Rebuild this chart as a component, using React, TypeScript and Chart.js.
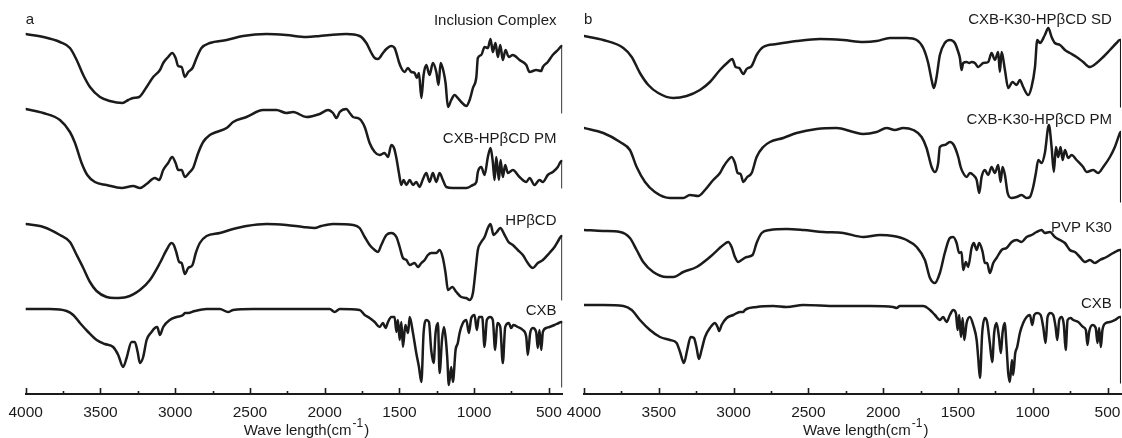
import React, { useEffect, useRef } from "react";
import { Chart, registerables } from "chart.js";

Chart.register(...registerables);

const FONT = '"Liberation Sans", Arial, Helvetica, sans-serif';
const INK = "#1b1b1b";

// x axis (wavenumber, cm-1)
const majorTicks = [4000, 3500, 3000, 2500, 2000, 1500, 1000, 500];
const minorTicks = [3750, 3250, 2750, 2250, 1750, 1250, 750];
const axisTitle = "Wave length(cm";
const axisTitleSup = "-1";
const axisTitleEnd = ")";

// Panel a series: [wavenumber, offset transmittance (a.u.)]
const inclusionComplex: [number, number][] = [[4000,359],[3882,356],[3771,351],[3704,345],[3659,333],[3615,318],[3570,306],[3503,296],[3437,292],[3352,290],[3314,293],[3281,295],[3241,296],[3191,306],[3147,316],[3102,323],[3080,330],[3047,336],[3020,340],[2997,335],[2980,327],[2957,326],[2935,316],[2913,321],[2884,325],[2857,335],[2824,345],[2768,350],[2656,353],[2546,357],[2389,359],[2256,358],[2122,356],[2033,357],[1966,358],[1855,359],[1766,357],[1721,350],[1687,340],[1665,335],[1643,334],[1610,340],[1587,344],[1554,347],[1532,345],[1520,340],[1503,331],[1487,325],[1465,321],[1443,325],[1420,321],[1398,320],[1383,315],[1369,320],[1353,295],[1338,318],[1320,328],[1298,318],[1276,330],[1253,321],[1238,308],[1224,330],[1204,321],[1191,310],[1175,286],[1153,293],[1131,298],[1109,295],[1086,291],[1052,287],[1030,293],[1008,305],[985,316],[975,335],[952,338],[930,346],[908,345],[890,354],[875,341],[857,350],[841,336],[825,348],[808,333],[790,343],[768,336],[741,338],[696,333],[651,328],[629,321],[585,323],[551,322],[540,326],[507,331],[474,338],[440,343],[422,346],[413,347],[413,280]];

const cxbHpbcdPm: [number, number][] = [[4000,284],[3882,280],[3771,273],[3704,261],[3670,250],[3626,230],[3588,218],[3537,211],[3459,208],[3358,205],[3281,207],[3236,205],[3191,209],[3136,215],[3107,213],[3080,223],[3047,230],[3020,236],[2997,230],[2980,223],[2957,223],[2935,216],[2902,221],[2880,225],[2846,240],[2813,251],[2768,258],[2723,261],[2656,265],[2612,271],[2523,276],[2412,283],[2322,283],[2256,280],[2211,281],[2122,276],[2033,279],[1977,283],[1944,280],[1921,275],[1899,281],[1855,284],[1832,280],[1810,276],[1766,274],[1732,266],[1699,250],[1665,241],[1632,238],[1599,240],[1576,236],[1554,248],[1536,245],[1520,235],[1503,220],[1487,208],[1472,213],[1453,208],[1431,213],[1409,208],[1387,211],[1365,206],[1342,214],[1320,220],[1298,211],[1276,220],[1253,211],[1231,220],[1209,213],[1186,206],[1142,205],[1052,205],[1008,208],[985,211],[975,221],[952,226],[930,218],[908,236],[890,245],[875,231],[863,213],[852,236],[834,213],[823,233],[808,216],[792,228],[774,220],[741,223],[696,216],[651,211],[629,215],[596,208],[563,213],[540,211],[507,218],[474,221],[440,226],[422,231],[413,232],[413,205]];

const hpbcd: [number, number][] = [[4000,169],[3882,166],[3771,158],[3704,151],[3659,138],[3615,125],[3570,111],[3526,102],[3459,96],[3403,95],[3325,96],[3236,103],[3169,113],[3102,130],[3058,143],[3024,150],[3009,148],[2991,140],[2973,131],[2957,130],[2935,119],[2913,125],[2884,128],[2862,140],[2835,150],[2790,157],[2701,160],[2612,164],[2523,167],[2389,169],[2256,168],[2144,166],[2066,165],[2022,167],[1944,169],[1810,168],[1766,165],[1732,156],[1699,148],[1665,143],[1643,141],[1621,148],[1587,158],[1554,160],[1520,156],[1498,146],[1476,135],[1453,133],[1431,128],[1398,130],[1376,126],[1353,130],[1331,133],[1309,138],[1287,140],[1253,140],[1231,143],[1209,135],[1191,120],[1175,103],[1146,106],[1119,101],[1086,96],[1052,95],[1030,93],[1008,100],[990,123],[975,143],[952,151],[930,156],[908,165],[890,169],[870,158],[848,161],[825,165],[796,158],[770,151],[741,148],[708,143],[674,138],[641,130],[607,125],[574,130],[540,133],[496,140],[462,146],[434,153],[422,156],[413,157],[413,93]];

const cxbA: [number, number][] = [[4000,84],[3838,84],[3726,82],[3682,78],[3637,70],[3582,61],[3525,53],[3470,49],[3415,46],[3381,38],[3348,26],[3325,35],[3292,51],[3270,51],[3251,41],[3236,30],[3214,36],[3191,53],[3158,61],[3136,65],[3120,66],[3102,58],[3080,66],[3036,73],[2991,76],[2947,78],[2935,80],[2913,80],[2869,82],[2790,84],[2701,84],[2646,81],[2612,83],[2479,84],[2256,84],[1966,84],[1933,81],[1899,84],[1766,83],[1732,78],[1699,75],[1665,71],[1632,66],[1610,70],[1592,65],[1576,71],[1554,76],[1532,76],[1520,61],[1510,73],[1498,53],[1487,71],[1476,46],[1460,68],[1442,60],[1431,76],[1409,60],[1387,40],[1369,26],[1353,11],[1338,60],[1320,73],[1302,71],[1287,43],[1271,30],[1258,60],[1242,70],[1231,20],[1215,53],[1202,66],[1191,56],[1180,36],[1169,8],[1153,26],[1142,11],[1124,43],[1109,50],[1097,60],[1075,70],[1052,73],[1035,60],[1019,75],[997,78],[982,63],[968,76],[946,76],[930,46],[915,73],[892,76],[875,73],[859,43],[845,70],[825,66],[808,30],[792,66],[768,70],[752,65],[737,68],[708,66],[674,63],[651,56],[641,38],[625,60],[607,65],[585,61],[574,45],[563,63],[551,43],[540,61],[518,65],[496,66],[462,68],[434,70],[417,71],[413,71],[413,6]];

// Panel b series
const cxbK30HpbcdSd: [number, number][] = [[4000,357],[3871,353],[3737,345],[3681,336],[3626,320],[3570,308],[3504,300],[3403,295],[3314,297],[3225,303],[3158,311],[3091,323],[3036,331],[3009,334],[2986,326],[2962,325],[2935,319],[2913,324],[2879,327],[2846,338],[2802,346],[2712,349],[2579,352],[2423,354],[2267,353],[2133,351],[2044,352],[1955,355],[1843,355],[1776,353],[1732,345],[1699,330],[1676,313],[1661,305],[1643,316],[1621,338],[1588,350],[1554,353],[1521,350],[1498,341],[1487,335],[1476,323],[1465,330],[1442,331],[1425,330],[1409,331],[1387,330],[1365,326],[1331,330],[1298,331],[1275,340],[1253,333],[1231,341],[1220,321],[1208,341],[1186,323],[1164,305],[1135,311],[1108,308],[1086,313],[1064,306],[1030,298],[1008,306],[985,326],[970,353],[952,350],[919,358],[896,365],[874,356],[852,350],[818,348],[785,343],[752,340],[707,336],[663,331],[618,326],[573,330],[529,336],[484,343],[440,350],[417,353],[413,353],[413,286]];

const cxbK30HpbcdPm: [number, number][] = [[4000,265],[3871,260],[3759,251],[3693,243],[3648,226],[3592,211],[3526,201],[3425,195],[3336,195],[3292,198],[3236,197],[3191,203],[3136,213],[3091,220],[3069,226],[3036,233],[3013,236],[2991,230],[2973,220],[2953,219],[2935,211],[2909,216],[2879,220],[2846,236],[2802,246],[2757,251],[2668,255],[2579,260],[2445,264],[2311,265],[2200,261],[2133,259],[2044,261],[1977,265],[1922,263],[1866,265],[1799,263],[1743,256],[1710,245],[1676,226],[1654,221],[1632,230],[1621,246],[1588,248],[1554,251],[1528,248],[1498,236],[1482,226],[1465,220],[1442,216],[1420,220],[1398,218],[1375,213],[1358,200],[1342,216],[1320,223],[1298,218],[1275,226],[1253,220],[1231,228],[1215,211],[1202,226],[1186,218],[1168,200],[1141,195],[1108,196],[1075,198],[1041,195],[1019,196],[997,206],[979,220],[963,233],[941,230],[919,240],[892,268],[874,246],[859,221],[845,246],[830,236],[814,246],[800,233],[785,243],[763,235],[740,238],[707,233],[663,226],[640,221],[596,223],[563,220],[529,226],[484,236],[451,246],[417,260],[413,261],[413,191]];

const pvpK30: [number, number][] = [[4000,163],[3871,162],[3759,161],[3693,155],[3648,143],[3604,131],[3537,121],[3448,116],[3403,116],[3336,121],[3247,126],[3158,136],[3069,148],[3036,151],[3013,146],[2991,136],[2969,131],[2946,133],[2913,136],[2873,138],[2846,150],[2812,160],[2757,163],[2645,164],[2534,163],[2400,161],[2267,160],[2133,156],[2022,158],[1933,157],[1843,153],[1776,146],[1721,133],[1687,115],[1654,110],[1621,120],[1588,140],[1554,155],[1532,156],[1509,150],[1492,140],[1476,141],[1465,123],[1447,131],[1432,126],[1409,145],[1394,150],[1375,143],[1358,150],[1335,141],[1320,130],[1305,130],[1287,120],[1264,130],[1242,135],[1208,143],[1175,145],[1141,151],[1108,153],[1075,151],[1041,156],[1008,158],[974,161],[941,163],[919,160],[885,161],[852,156],[818,153],[785,150],[752,143],[718,141],[685,136],[651,131],[618,133],[585,130],[551,133],[507,136],[462,140],[417,143],[413,143],[413,85]];

const cxbB: [number, number][] = [[4000,88],[3871,88],[3737,87],[3681,83],[3626,73],[3559,63],[3492,56],[3425,53],[3381,50],[3358,41],[3332,30],[3310,43],[3287,56],[3265,55],[3247,45],[3232,34],[3214,43],[3191,56],[3158,65],[3124,70],[3107,66],[3096,62],[3080,68],[3046,75],[3002,78],[2957,81],[2935,81],[2924,83],[2846,86],[2735,87],[2645,86],[2534,88],[2311,87],[2088,87],[1933,86],[1910,85],[1888,87],[1732,87],[1687,83],[1654,78],[1621,73],[1599,76],[1576,71],[1554,78],[1532,83],[1514,80],[1502,63],[1492,78],[1480,56],[1469,75],[1458,53],[1442,70],[1420,76],[1398,68],[1375,53],[1365,36],[1353,15],[1338,60],[1320,75],[1305,71],[1287,50],[1271,31],[1258,60],[1242,70],[1226,56],[1213,40],[1202,60],[1188,70],[1175,46],[1164,20],[1153,11],[1139,33],[1131,18],[1117,40],[1104,46],[1086,60],[1064,70],[1041,76],[1019,78],[1003,68],[990,78],[970,80],[947,78],[930,66],[914,50],[901,76],[881,80],[863,78],[847,66],[836,53],[823,73],[807,76],[792,68],[780,43],[767,73],[747,75],[729,73],[696,71],[663,66],[645,63],[634,48],[623,61],[600,68],[579,65],[567,50],[556,65],[545,46],[534,63],[511,70],[484,71],[451,73],[417,76],[413,76],[413,10]];

const labelsA = ["Inclusion Complex", "CXB-HP\u03B2CD PM", "HP\u03B2CD", "CXB"];
const labelsB = ["CXB-K30-HP\u03B2CD SD", "CXB-K30-HP\u03B2CD PM", "PVP K30", "CXB"];

type PanelCfg = {
  letter: string;
  series: [number, number][][];
  labels: string[];
  labelY: number[];
  labelRightWn: number;
  left: number;
  width: number;
  padLeft: number;
  padRight: number;
  titleOffset: number;
};

const panelA: PanelCfg = {
  letter: "a",
  series: [inclusionComplex, cxbHpbcdPm, hpbcd, cxbA],
  labels: labelsA,
  labelY: [368.5, 250, 168, 78],
  labelRightWn: 449,
  left: 0,
  width: 563,
  padLeft: 25.7,
  padRight: 0.7,
  titleOffset: 218,
};

const panelB: PanelCfg = {
  letter: "b",
  series: [cxbK30HpbcdSd, cxbK30HpbcdPm, pvpK30, cxbB],
  labels: labelsB,
  labelY: [369, 269.5, 161.5, 85.5],
  labelRightWn: 471,
  left: 563,
  width: 559,
  padLeft: 21,
  padRight: 1,
  titleOffset: 219,
};

function makeDecor(cfg: PanelCfg) {
  return {
    id: "decor-" + cfg.letter,
    afterDraw(chart: any) {
      const ctx = chart.ctx as CanvasRenderingContext2D;
      const xs = chart.scales.x;
      const ys = chart.scales.y;
      const area = chart.chartArea;
      const bottom = area.bottom;
      ctx.save();
      ctx.strokeStyle = INK;
      ctx.lineWidth = 1.6;
      ctx.beginPath();
      majorTicks.forEach((v) => {
        const px = Math.round(xs.getPixelForValue(v)) + 0.5;
        ctx.moveTo(px, bottom);
        ctx.lineTo(px, bottom - 6);
      });
      minorTicks.forEach((v) => {
        const px = Math.round(xs.getPixelForValue(v)) + 0.5;
        ctx.moveTo(px, bottom);
        ctx.lineTo(px, bottom - 3);
      });
      ctx.stroke();

      ctx.fillStyle = INK;
      ctx.font = `15px ${FONT}`;
      ctx.textBaseline = "alphabetic";
      ctx.textAlign = "left";
      ctx.fillText(cfg.letter, area.left, area.top + 24);

      ctx.textAlign = "right";
      cfg.labels.forEach((t, i) => {
        ctx.fillText(t, xs.getPixelForValue(cfg.labelRightWn), ys.getPixelForValue(cfg.labelY[i]));
      });

      ctx.textAlign = "left";
      const sx = area.left + cfg.titleOffset;
      const base = 435;
      ctx.font = `15px ${FONT}`;
      ctx.fillText(axisTitle, sx, base);
      const w1 = ctx.measureText(axisTitle).width;
      ctx.font = `12px ${FONT}`;
      ctx.fillText(axisTitleSup, sx + w1 + 1, base - 8);
      const w2 = ctx.measureText(axisTitleSup).width;
      ctx.font = `15px ${FONT}`;
      ctx.fillText(axisTitleEnd, sx + w1 + w2 + 2, base);
      ctx.restore();
    },
  };
}

function Panel({ cfg }: { cfg: PanelCfg }) {
  const ref = useRef<HTMLCanvasElement | null>(null);
  useEffect(() => {
    if (!ref.current) return;
    const chart = new Chart(ref.current, {
      type: "line",
      data: {
        datasets: cfg.series.map((s) => ({
          data: s.map(([x, y]) => ({ x, y })),
          borderColor: INK,
          borderWidth: 2.5,
          borderJoinStyle: "round",
          borderCapStyle: "round",
          pointRadius: 0,
          fill: false,
          cubicInterpolationMode: "monotone" as const,
          segment: {
            borderWidth: (c: any) => (c.p0.parsed.x === c.p1.parsed.x ? 1.2 : undefined),
          },
        })),
      },
      options: {
        responsive: false,
        devicePixelRatio: 1,
        animation: false,
        events: [],
        layout: { padding: { left: cfg.padLeft, right: cfg.padRight, top: 0, bottom: 0 } },
        plugins: { legend: { display: false }, tooltip: { enabled: false }, title: { display: false } },
        scales: {
          x: {
            type: "linear",
            reverse: true,
            min: 410,
            max: 4000,
            grid: { display: false, drawTicks: false },
            border: { display: true, color: INK, width: 2 },
            afterBuildTicks: (scale: any) => {
              scale.ticks = majorTicks.map((v) => ({ value: v }));
            },
            afterFit: (scale: any) => {
              scale.height = 44;
              scale.paddingLeft = 0;
              scale.paddingRight = 0;
            },
            ticks: {
              autoSkip: false,
              maxRotation: 0,
              padding: 9,
              color: INK,
              font: { family: FONT, size: 15.5 },
              callback: (v: any) => String(v),
            },
          },
          y: { type: "linear", display: false, min: -1, max: 393 },
        },
      },
      plugins: [makeDecor(cfg)],
    } as any);
    return () => chart.destroy();
  }, [cfg]);
  return (
    <canvas
      ref={ref}
      width={cfg.width}
      height={438}
      style={{ position: "absolute", left: cfg.left, top: 0, width: cfg.width, height: 438 }}
    />
  );
}

export default function App() {
  return (
    <div
      style={{
        position: "fixed",
        left: 0,
        top: 0,
        width: 1122,
        height: 438,
        background: "#ffffff",
        overflow: "hidden",
      }}
    >
      <Panel cfg={panelA} />
      <Panel cfg={panelB} />
    </div>
  );
}
